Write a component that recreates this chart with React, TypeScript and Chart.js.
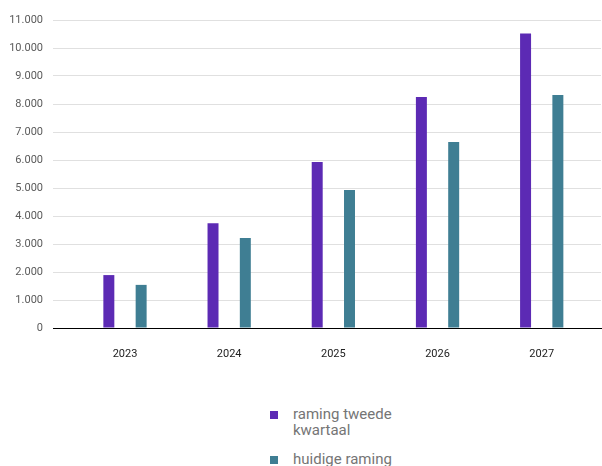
import React, { useEffect, useRef } from "react";
import { Chart, registerables } from "chart.js";

Chart.register(...registerables);

const years = [2023, 2024, 2025, 2026, 2027];
const ramingTweedeKwartaal = [1890, 3740, 5930, 8250, 10520];
const huidigeRaming = [1540, 3210, 4930, 6640, 8320];
const seriesLabels = ["raming tweede kwartaal", "huidige raming"];
const seriesColors = ["#5c2ab4", "#3f7e93"];
const yTicksMax = 11000;
const yTickStep = 1000;

const fmt = (v: number) => String(v).replace(/\B(?=(\d{3})+(?!\d))/g, ".");

export default function App() {
  const ref = useRef<HTMLCanvasElement | null>(null);

  useEffect(() => {
    if (!ref.current) return;
    const seriesValues = [ramingTweedeKwartaal, huidigeRaming];
    const chart = new Chart(ref.current, {
      type: "bar",
      data: {
        datasets: seriesValues.map((vals, i) => ({
          label: seriesLabels[i],
          data: years.map((y, j) => ({ x: y, y: vals[j] })),
          backgroundColor: seriesColors[i],
          borderWidth: 0,
          categoryPercentage: 0.62,
          barPercentage: 0.34,
        })),
      },
      options: {
        responsive: false,
        animation: false,
        layout: { padding: { top: 20, right: 1, left: 0, bottom: 0 } },
        plugins: { legend: { display: false }, tooltip: { enabled: false } },
        scales: {
          x: {
            type: "linear",
            offset: false,
            min: 2022.309,
            max: 2027.569,
            afterBuildTicks: (scale: any) => {
              scale.ticks = years.map((v) => ({ value: v }));
            },
            afterFit: (scale: any) => {
              scale.height = 40;
            },
            grid: { display: false, drawTicks: false },
            border: { display: true, color: "#000000", width: 1 },
            ticks: {
              autoSkip: false,
              padding: 20,
              maxRotation: 0,
              color: "#222222",
              font: { family: "Roboto", size: 11 },
              callback: (v: any) => String(v),
            },
          },
          y: {
            min: 0,
            max: yTicksMax,
            afterFit: (scale: any) => {
              scale.width = 53;
            },
            grid: {
              drawTicks: false,
              color: (ctx: any) => (ctx.tick && ctx.tick.value === 0 ? "#000000" : "#e0e0e0"),
            },
            border: { display: false },
            ticks: {
              stepSize: yTickStep,
              padding: 10,
              color: "#5a5a5a",
              font: { family: "Roboto", size: 11 },
              callback: (v: any) => fmt(Number(v)),
            },
          },
        },
      },
    });
    return () => chart.destroy();
  }, []);

  return (
    <div
      style={{
        position: "fixed",
        left: 0,
        top: 0,
        width: 602,
        height: 466,
        overflow: "hidden",
        background: "#ffffff",
      }}
    >
      <canvas ref={ref} width={602} height={368} style={{ display: "block" }} />
      {seriesLabels.map((label, i) => (
        <div
          key={label}
          style={{
            position: "absolute",
            left: 270,
            top: i === 0 ? 406 : 451,
            display: "flex",
            alignItems: "flex-start",
            fontFamily: "Roboto",
            fontSize: 15,
            lineHeight: "16px",
            color: "#757575",
          }}
        >
          <span
            style={{
              display: "inline-block",
              flex: "0 0 auto",
              width: 8,
              height: 8,
              marginTop: 5,
              background: seriesColors[i],
            }}
          />
          <span style={{ marginLeft: 15, width: 115 }}>{label}</span>
        </div>
      ))}
    </div>
  );
}
